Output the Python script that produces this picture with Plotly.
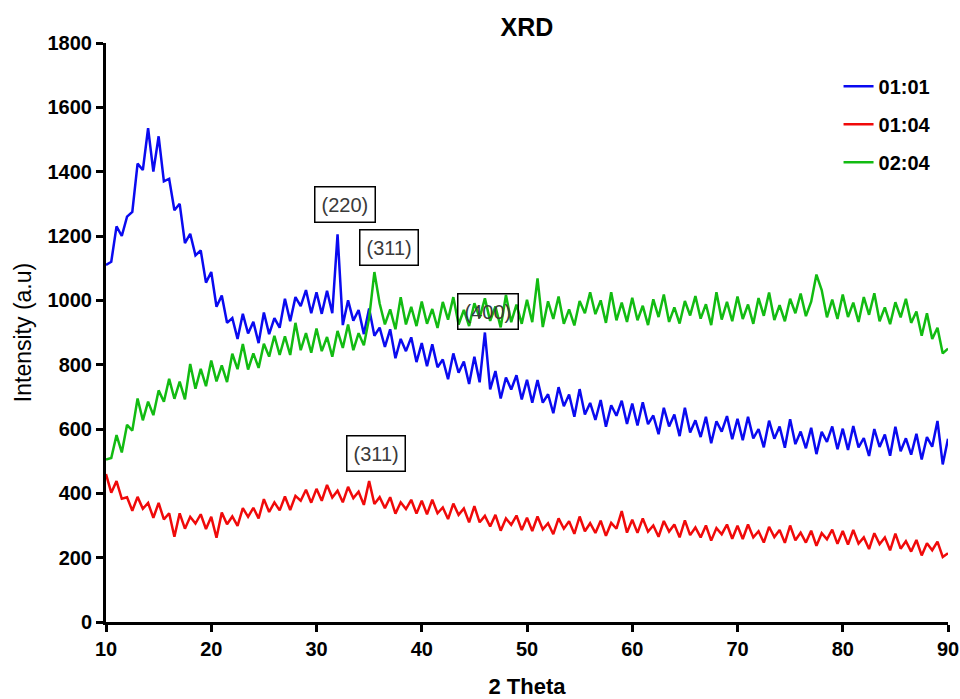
import numpy as np
import plotly.graph_objects as go

# 2-theta grid (0.5 degree step, 10..90)
two_theta_start = 10.0
two_theta_step = 0.5

series_names = ["01:01", "01:04", "02:04"]

intensity_0101 = [
    1110, 1120, 1230, 1200, 1260, 1275, 1425, 1405, 1535, 1400,
    1510, 1370, 1378, 1280, 1300, 1178, 1207, 1140, 1155, 1055,
    1088, 980, 1015, 930, 945, 880, 958, 897, 933, 867,
    962, 895, 945, 915, 1005, 935, 1010, 982, 1032, 960,
    1025, 958, 1030, 960, 1205, 923, 1000, 937, 970, 895,
    975, 890, 915, 855, 910, 820, 880, 842, 885, 808,
    867, 795, 863, 792, 816, 755, 835, 775, 810, 740,
    825, 745, 900, 723, 780, 695, 760, 723, 767, 692,
    753, 682, 752, 682, 708, 649, 730, 671, 707, 638,
    724, 645, 681, 628, 690, 607, 674, 641, 688, 616,
    679, 611, 683, 615, 642, 584, 666, 608, 645, 578,
    666, 589, 627, 575, 638, 556, 624, 592, 640, 568,
    632, 565, 638, 571, 600, 543, 626, 570, 608, 542,
    630, 553, 592, 540, 604, 522, 591, 560, 608, 537,
    601, 535, 609, 543, 572, 516, 600, 544, 583, 517,
    607, 531, 571, 520, 585, 505, 575, 545, 625, 490,
    570,
]

intensity_0104 = [
    460, 402, 438, 383, 388, 346, 389, 352, 370, 324,
    370, 319, 338, 265, 338, 290, 327, 306, 335, 289,
    327, 262, 340, 304, 328, 299, 354, 327, 355, 322,
    382, 342, 372, 347, 390, 348, 392, 377, 411, 371,
    414, 377, 426, 387, 408, 372, 420, 385, 405, 364,
    438, 367, 388, 354, 388, 337, 372, 351, 380, 337,
    377, 335, 380, 338, 356, 320, 368, 333, 353, 310,
    360, 310, 330, 297, 333, 284, 322, 302, 331, 286,
    324, 283, 328, 288, 307, 273, 322, 290, 313, 274,
    328, 282, 307, 277, 315, 268, 308, 290, 345, 278,
    318, 277, 322, 281, 300, 265, 314, 281, 303, 263,
    316, 270, 294, 263, 300, 253, 292, 273, 303, 259,
    299, 258, 303, 263, 282, 247, 296, 264, 286, 246,
    300, 254, 278, 247, 284, 237, 276, 257, 287, 243,
    283, 241, 286, 244, 263, 227, 276, 242, 263, 223,
    275, 228, 251, 219, 255, 207, 245, 223, 250, 202,
    214,
]

intensity_0204 = [
    505, 510, 581, 527, 613, 595, 695, 627, 685, 643,
    720, 685, 756, 694, 747, 692, 802, 725, 787, 733,
    813, 748, 798, 746, 834, 786, 864, 785, 835, 790,
    865, 825, 890, 830, 888, 830, 930, 845, 898, 837,
    912, 842, 886, 825, 905, 852, 925, 845, 898, 860,
    945, 1088, 990, 925, 972, 910, 1010, 925, 980, 920,
    996, 927, 973, 914, 995, 940, 1010, 925, 970, 920,
    991, 946, 1006, 936, 981, 916, 1017, 932, 987, 927,
    1002, 932, 1068, 917, 997, 942, 1012, 927, 972, 922,
    998, 960, 1025, 957, 1000, 930, 1025, 938, 993, 933,
    1008, 938, 983, 923, 1003, 948, 1018, 933, 978, 928,
    998, 953, 1013, 943, 988, 923, 1025, 940, 995, 935,
    1012, 942, 987, 927, 1007, 952, 1024, 939, 985, 935,
    1005, 960, 1021, 951, 996, 1080, 1032, 947, 1002, 942,
    1018, 948, 993, 933, 1010, 955, 1022, 935, 978, 926,
    994, 947, 1005, 930, 965, 890, 960, 880, 915, 835,
    850,
]

# peak labels: (text, 2theta, intensity)
peak_labels = ["(220)", "(311)", "(400)", "(311)"]
peak_x = [32.7, 36.9, 46.3, 35.65]
peak_y = [1299, 1163, 966, 525]

x_ticks = [10, 20, 30, 40, 50, 60, 70, 80, 90]
y_ticks = [0, 200, 400, 600, 800, 1000, 1200, 1400, 1600, 1800]

colors = ["#0A0AF0", "#F00A0A", "#12BB12"]

series = [intensity_0101, intensity_0104, intensity_0204]
for s in series:
    assert len(s) == 161, len(s)
two_theta = two_theta_start + two_theta_step * np.arange(len(intensity_0101))

FONT = "Liberation Sans, Arial, sans-serif"

fig = go.Figure()
for i, (name, vals, col) in enumerate(zip(series_names, series, colors)):
    fig.add_trace(go.Scatter(
        x=two_theta, y=vals, mode="lines", name=name,
        line=dict(color=col, width=2.5),
        legendgroup=f"g{i}",
    ))

for txt, xx, yy in zip(peak_labels, peak_x, peak_y):
    fig.add_annotation(
        x=xx, y=yy, xref="x", yref="y", text=txt, showarrow=False,
        font=dict(family=FONT, size=20, color="#3a3a3a"),
        bordercolor="black", borderwidth=1.5, borderpad=6,
        xanchor="center", yanchor="middle",
    )

fig.update_layout(
    width=960, height=699,
    margin=dict(l=106, r=12, t=43, b=77),
    paper_bgcolor="white", plot_bgcolor="white",
    title=dict(text="<b>XRD</b>", x=0.5, xref="paper", y=1 - 27 / 699,
               yref="container", yanchor="middle", xanchor="center",
               font=dict(family=FONT, size=25, color="black")),
    legend=dict(x=0.87, y=0.959, xanchor="left", yanchor="top",
                font=dict(family=FONT, size=20, color="black", weight="bold"),
                tracegroupgap=9, bgcolor="rgba(0,0,0,0)"),
    showlegend=True,
)

fig.update_xaxes(
    range=[10, 90], tickvals=x_ticks, ticktext=[str(v) for v in x_ticks],
    showline=True, linecolor="black", linewidth=3,
    ticks="outside", ticklen=7, tickwidth=3, tickcolor="black",
    showgrid=False, zeroline=False, automargin=False,
    tickfont=dict(family=FONT, size=20, color="black", weight="bold"),
    title=dict(text="<b>2 Theta</b>", standoff=20,
               font=dict(family=FONT, size=22, color="black")),
)
fig.update_yaxes(
    range=[0, 1800], tickvals=y_ticks, ticktext=[str(v) for v in y_ticks],
    showline=True, linecolor="black", linewidth=3,
    ticks="outside", ticklen=7, tickwidth=3, tickcolor="black",
    showgrid=False, zeroline=False, automargin=False,
    tickfont=dict(family=FONT, size=20, color="black", weight="bold"),
    title=dict(text="Intensity (a.u)", standoff=10,
               font=dict(family=FONT, size=23, color="black")),
)

fig.write_html("out.html")
